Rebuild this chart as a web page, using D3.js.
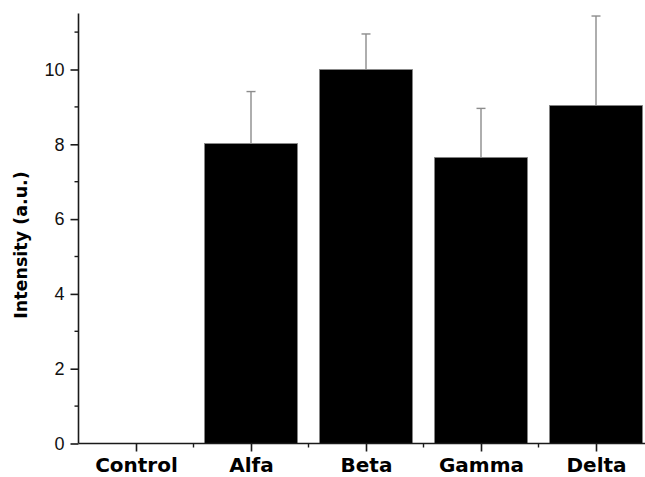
<!DOCTYPE html>
<html>
<head>
<meta charset="utf-8">
<script src="https://cdn.jsdelivr.net/npm/d3@7"></script>
<style>
  html, body { margin: 0; padding: 0; background: #fff; overflow: hidden; }
  svg { display: block; }
</style>
</head>
<body>
<svg id="chart" width="645" height="477"></svg>
<script>
// Mean intensity per sample with its standard deviation
const categories = ["Control", "Alfa", "Beta", "Gamma", "Delta"];
const means = [0, 8.02, 10.0, 7.65, 9.04];
const errors = [0, 1.39, 0.95, 1.31, 2.39];
const yTicks = [0, 2, 4, 6, 8, 10];
const yMinorTicks = [1, 3, 5, 7, 9, 11];
const yLabel = "Intensity (a.u.)";

const svg = d3.select("#chart");

// Category positions 1..5, axis spans half a slot beyond either end
const x = d3.scaleLinear().domain([0.5, 5.5]).range([78.5, 653.5]);
const y = d3.scaleLinear().domain([0, 11.5]).range([443.5, 13.4]);
const slot = x(2) - x(1);
const barW = slot * 0.81;

const axisColor = "#1a1a1a";
const boldFont = "DejaVu Sans, Verdana, sans-serif";
const tickFont = "Liberation Sans, Arial, sans-serif";

// Bars
svg.append("g")
  .selectAll("rect")
  .data(categories.map((c, i) => ({ c, v: means[i], e: errors[i], pos: i + 1 })))
  .join("rect")
  .attr("x", d => x(d.pos) - barW / 2)
  .attr("y", d => y(d.v))
  .attr("width", barW)
  .attr("height", d => y(0) - y(d.v))
  .attr("fill", "#000")
  .attr("stroke", "#8a8a8a")
  .attr("stroke-width", 0.8);

// Upper error bars
const eb = svg.append("g").attr("stroke", "#8c8c8c").attr("stroke-width", 1.4);
categories.forEach((c, i) => {
  if (errors[i] <= 0) return;
  const cx = x(i + 1);
  eb.append("line")
    .attr("x1", cx).attr("x2", cx)
    .attr("y1", y(means[i])).attr("y2", y(means[i] + errors[i]));
  eb.append("line")
    .attr("x1", cx - 4.5).attr("x2", cx + 4.5)
    .attr("y1", y(means[i] + errors[i])).attr("y2", y(means[i] + errors[i]));
});

// Y axis: major ticks with labels, minor ticks between
const yAxis = svg.append("g").attr("transform", `translate(${x(0.5)},0)`);
yAxis.call(d3.axisLeft(y).tickValues(yTicks).tickSize(8).tickPadding(6).tickFormat(d3.format("d")));
yAxis.append("g").selectAll("line")
  .data(yMinorTicks)
  .join("line")
  .attr("x1", -4).attr("x2", 0)
  .attr("y1", d => y(d)).attr("y2", d => y(d))
  .attr("stroke", axisColor).attr("stroke-width", 1.4);
yAxis.select(".domain").attr("d", `M0,${y(0)}V${y(11.5)}`);
yAxis.selectAll(".domain, .tick line").attr("stroke", axisColor).attr("stroke-width", 1.6);
yAxis.selectAll(".tick text")
  .attr("font-family", tickFont)
  .attr("font-size", 18)
  .attr("fill", "#111");

// X axis: category ticks plus minor ticks at slot boundaries
const xAxis = svg.append("g").attr("transform", `translate(0,${y(0)})`);
xAxis.call(d3.axisBottom(x).tickValues(d3.range(1, 6)).tickSize(8)
  .tickFormat(d => categories[d - 1]));
xAxis.append("g").selectAll("line")
  .data([1.5, 2.5, 3.5, 4.5])
  .join("line")
  .attr("x1", d => x(d)).attr("x2", d => x(d))
  .attr("y1", 0).attr("y2", 4)
  .attr("stroke", axisColor).attr("stroke-width", 1.4);
xAxis.select(".domain").attr("d", `M${x(0.5)},0H${x(5.5)}`);
xAxis.selectAll(".domain, .tick line").attr("stroke", axisColor).attr("stroke-width", 1.6);
xAxis.selectAll(".tick text")
  .attr("y", 28.5)
  .attr("dy", null)
  .attr("font-family", boldFont)
  .attr("font-size", 20)
  .attr("font-weight", "bold")
  .attr("fill", "#000");

// Y axis title
svg.append("text")
  .attr("transform", "translate(27,245) rotate(-90)")
  .attr("text-anchor", "middle")
  .attr("font-family", boldFont)
  .attr("font-size", 17.5)
  .attr("font-weight", "bold")
  .attr("fill", "#000")
  .text(yLabel);
</script>
</body>
</html>
